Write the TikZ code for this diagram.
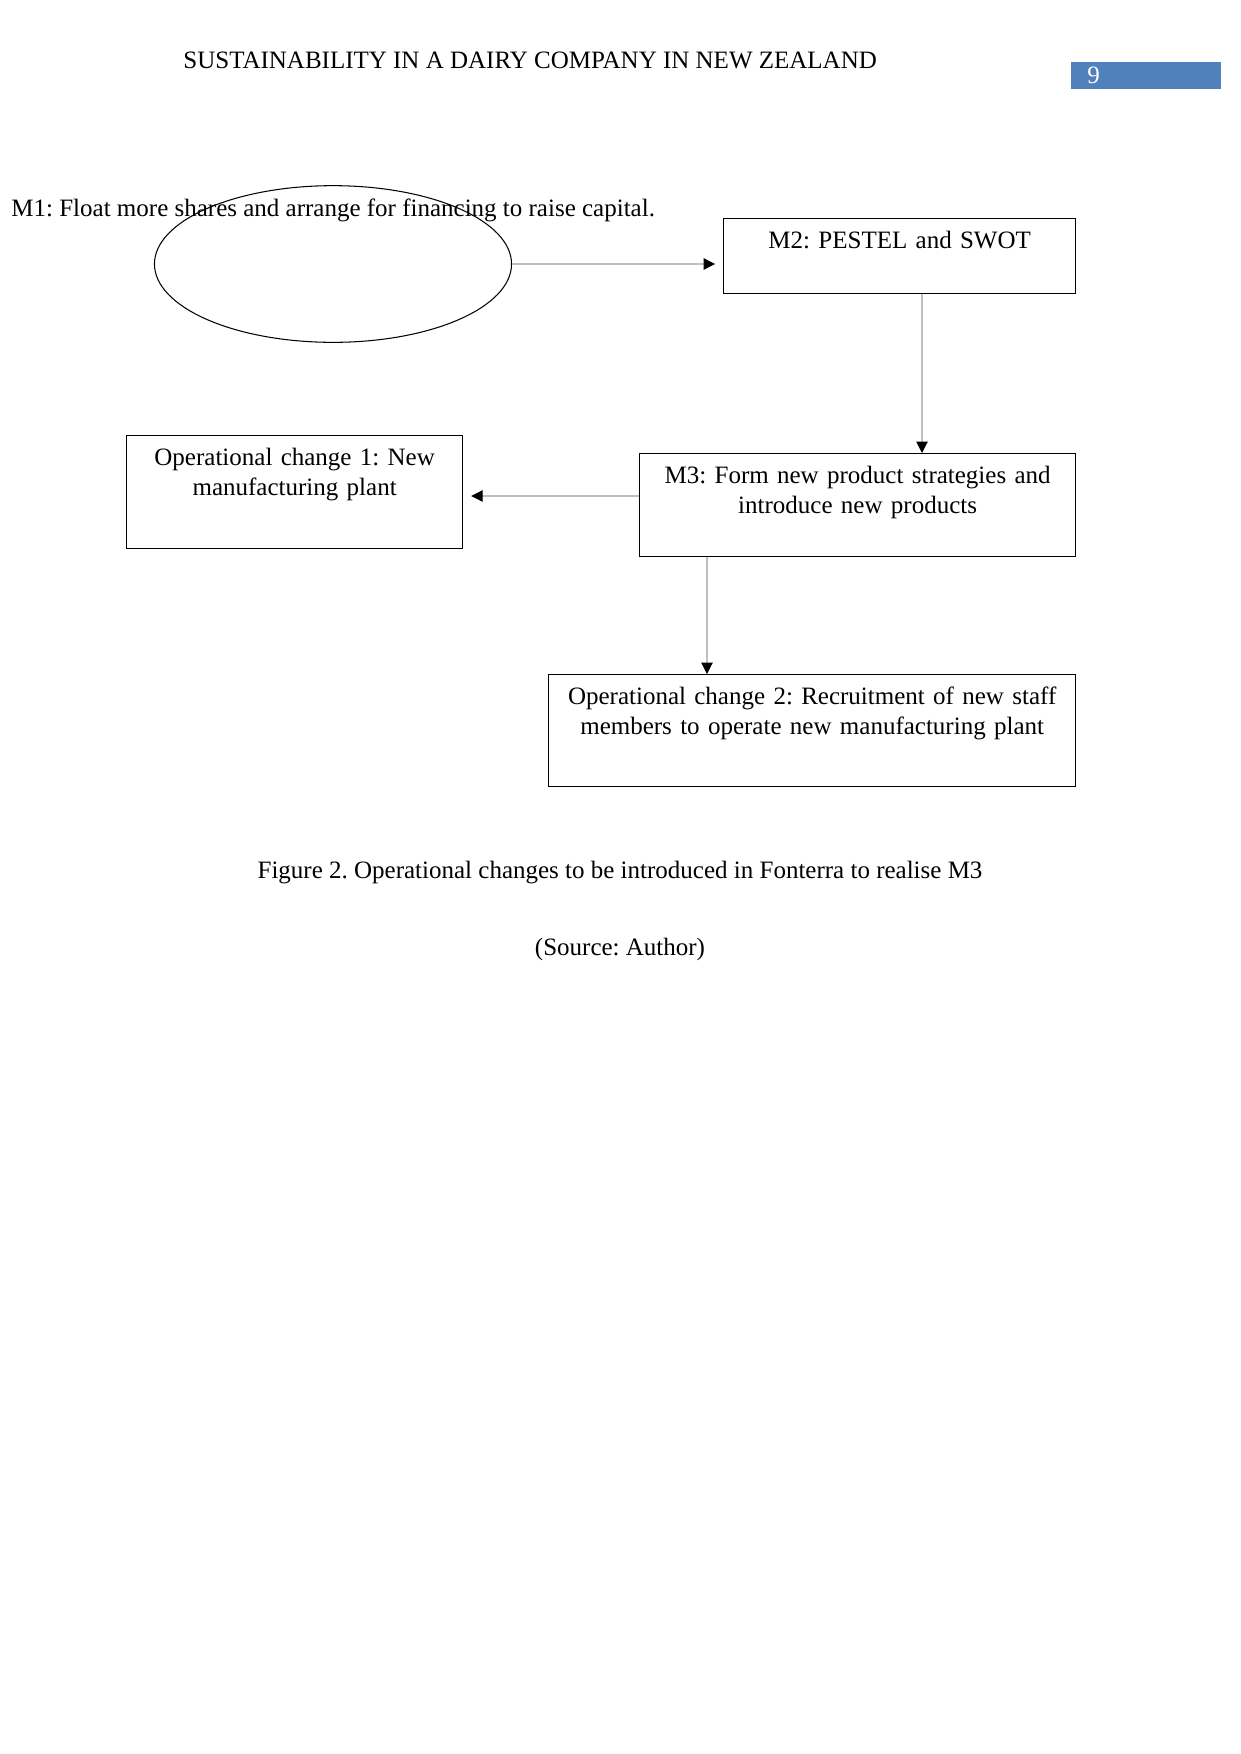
\documentclass[tikz,border=0pt]{standalone}
\usepackage{fontspec}
\setmainfont{Liberation Serif}
\usetikzlibrary{arrows.meta, shapes.geometric}
\definecolor{pageblue}{RGB}{79,129,189}
\frenchspacing

\begin{document}
\begin{tikzpicture}[
    x=0.48pt, y=-0.48pt,
    every node/.style={font=\fontsize{12pt}{14.2pt}\selectfont},
    plain/.style={inner sep=0pt},
    box/.style={rectangle, draw, line width=0.6pt, anchor=north west, align=center, inner xsep=0pt, inner ysep=0pt, text height=14.4pt},
    goal/.style={ellipse, draw, line width=0.5pt, minimum width=171.4pt, minimum height=75.2pt},
    link/.style={draw=gray!50, line width=0.5pt, -{Triangle[length=5.5pt, width=5.5pt, color=black]}},
]
\useasboundingbox (0,0) rectangle (1241,1754);

% Page header
\node[plain, anchor=base west] (title) at (183,68) {SUSTAINABILITY IN A DAIRY COMPANY IN NEW ZEALAND};
\node[fill=pageblue, text=white, anchor=north west, inner xsep=7.7pt, inner ysep=0pt, text width=56.6pt, minimum height=12.9pt, align=left] (pagenum) at (1071,61.5) {9};

% Moves and operational changes
\node[plain, anchor=base west] (m1text) at (11,216) {M1: Float more shares and arrange for financing to raise capital.};
\node[goal] (m1) at (333,264) {};
\node[box, minimum width=169pt, text width=160pt, text depth=21.6pt] (m2) at (723,218) {M2: PESTEL and SWOT};
\node[box, minimum width=209.3pt, text width=205pt, text depth=35pt] (m3) at (639,453) {M3: Form new product strategies and\\ introduce new products};
\node[box, minimum width=161.3pt, text width=155pt, text depth=39.8pt] (oc1) at (126,435) {Operational change 1: New\\ manufacturing plant};
\node[box, minimum width=253pt, text width=248pt, text depth=39.4pt] (oc2) at (548,674) {Operational change 2: Recruitment of new staff\\ members to operate new manufacturing plant};

\draw[link, shorten >=3.8pt] (m1.east) -- (m1.east -| m2.west);
\draw[link] (m2.south -| 922,0) -- (m3.north -| 922,0);
\draw[link, shorten >=3.8pt] (m3.west |- 0,496) -- (oc1.east |- 0,496);
\draw[link] (m3.south -| 707,0) -- (oc2.north -| 707,0);

% Caption
\node[plain, anchor=base] (caption) at (620,878) {Figure 2. Operational changes to be introduced in Fonterra to realise M3};
\node[plain, anchor=base] (source) at (620,955) {(Source: Author)};
\end{tikzpicture}
\end{document}
